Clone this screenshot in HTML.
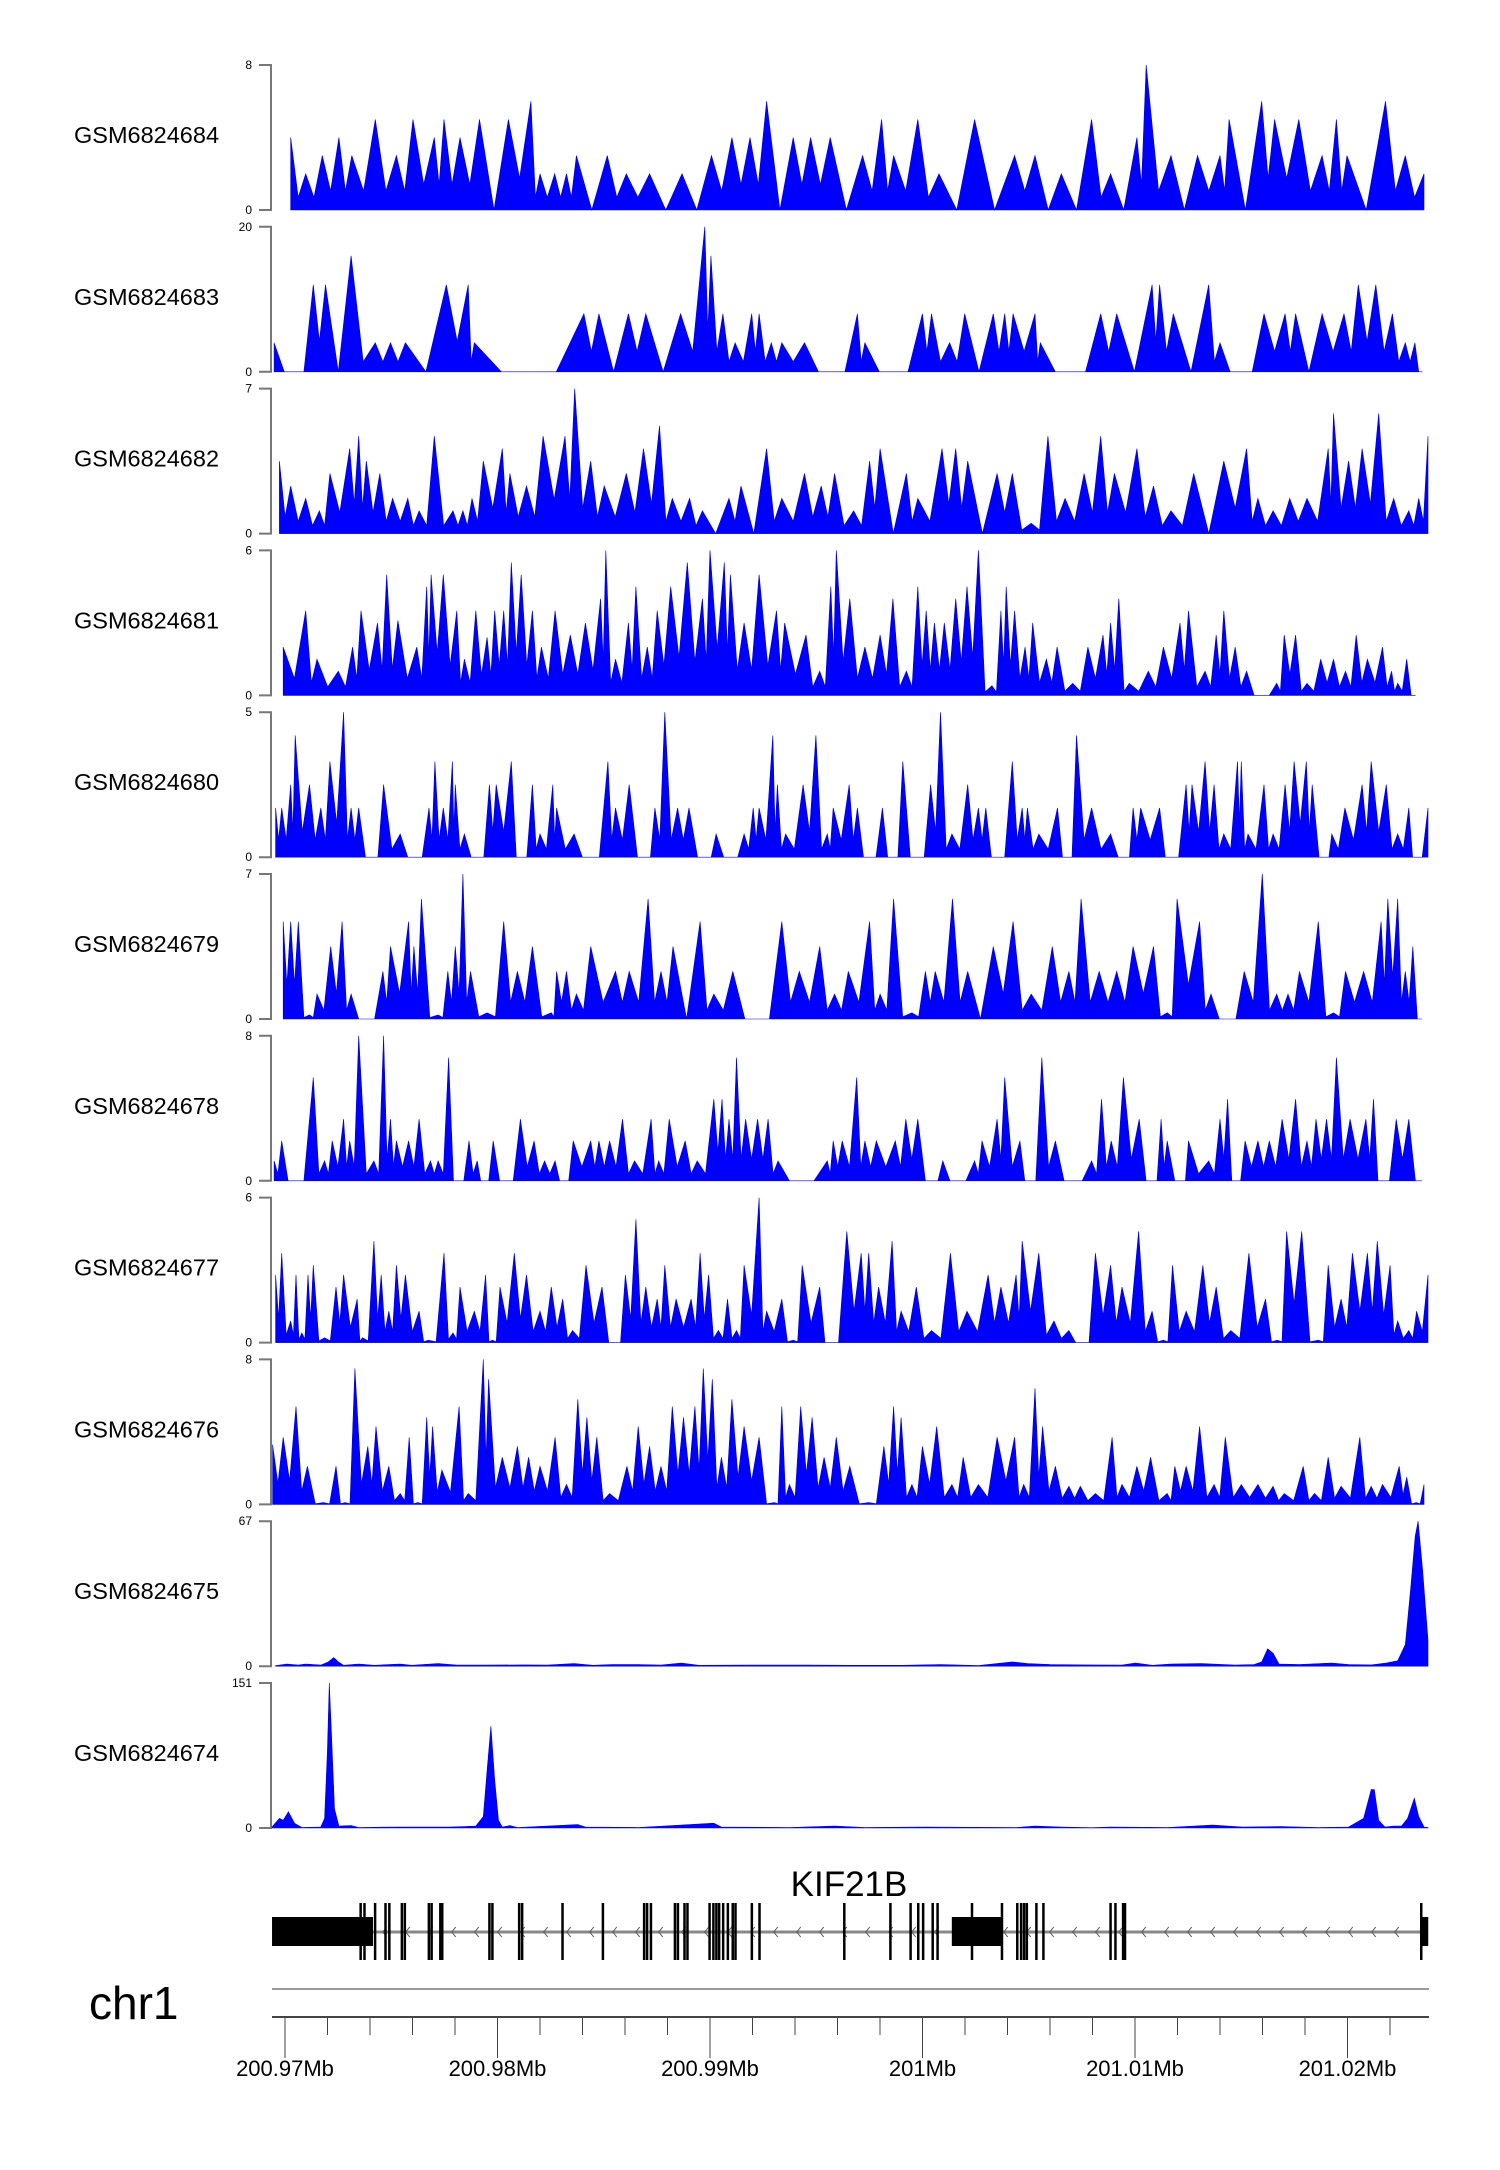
<!DOCTYPE html>
<html><head><meta charset="utf-8">
<style>
html,body{margin:0;padding:0;background:#fff;}
svg{display:block;}
text{font-family:"Liberation Sans",Arial,sans-serif;}
</style></head>
<body>
<svg id="chart" width="1500" height="2170" viewBox="0 0 1500 2170" xmlns="http://www.w3.org/2000/svg">
  <g id="tracks"></g>
  <g id="gene">
    <text x="849" y="1896" font-size="35" text-anchor="middle" fill="#000">KIF21B</text>
  </g>
  <text x="89" y="2019" font-size="46" fill="#000">chr1</text>
  <line x1="272" y1="1989" x2="1429" y2="1989" stroke="#999" stroke-width="2"/>
  <g id="axis"></g>
</svg>
<script>
// ---- track names and y-axis maxima ----
const trackNames = ["GSM6824684","GSM6824683","GSM6824682","GSM6824681","GSM6824680","GSM6824679","GSM6824678","GSM6824677","GSM6824676","GSM6824675","GSM6824674"];
const trackMax = [8,20,7,6,5,7,8,6,8,67,151];
const trackSmooth = [false,false,false,false,false,false,false,false,false,true,true];

// ---- positions (kb) and values per track ----
const pos684 = [0.26,0.97,1.76,2.55,3.16,4.28,5.28,6.07,7.08,7.54,8.30,9.23,10.6,11.67,12.1,12.8,13.36,13.83,15.3,16.2,17.31,18.85,20.25,21.22,22.08,22.87,24.13,24.96,25.89,27.43,28.33,28.9,30.05,31.06,32.75,34.65,35.62,36.87,38.31,39.21,40.46,40.9,42.08,43.34,44.41,44.84,46.39,47.0,48.15,49.26,49.94,50.44,52.27,53.21,54.1];
const val684 = [4,2,3,4,3,5,3,5,4,5,4,5,5,6,2,2,2,3,3,2,2,2,3,4,4,6,4,4,4,3,5,3,5,2,5,3,3,2,5,2,4,8,3,3,3,5,6,5,5,3,5,3,6,3,2];

const pos683 = [-0.53,0.44,1.33,1.91,3.13,4.28,5.0,5.71,7.65,8.69,8.98,11.56,14.19,14.9,16.3,17.13,18.78,19.93,20.22,20.79,21.37,22.16,22.51,23.09,23.59,24.67,26.0,27.18,27.54,28.9,30.27,30.7,31.56,32.28,33.64,34.18,34.58,35.62,35.87,37.3,38.74,39.5,41.18,41.54,42.19,43.87,44.41,45.38,46.5,47.5,48.0,49.26,50.3,50.98,51.81,52.6,53.21,53.67,54.03];
const val683 = [4,0,12,12,16,4,4,4,12,12,4,0,8,8,8,8,8,20,16,8,4,8,8,4,4,4,0,8,4,0,8,8,4,8,8,8,8,8,4,0,8,8,12,12,8,12,4,0,8,8,8,8,8,12,12,8,4,4,0];

const pos682 = [-0.28,0.26,0.97,1.62,2.12,3.06,3.49,3.85,4.49,5.1,5.82,6.36,7.08,7.97,8.44,8.87,9.41,10.31,10.67,11.46,12.25,13.29,13.75,14.51,15.15,16.2,17.02,17.78,18.39,19.21,19.82,21.08,21.65,22.87,23.59,24.67,25.46,26.1,27.0,27.76,28.26,29.51,30.05,31.2,31.85,32.42,33.82,34.54,35.44,36.23,37.05,37.95,38.74,39.39,40.46,41.25,42.08,43.16,44.59,45.67,46.21,46.93,47.72,48.54,49.55,49.8,50.52,51.16,51.95,52.66,53.38,53.85,54.29];
const val682 = [3.5,2.3,1.7,1.1,2.9,4.1,4.7,3.5,2.9,1.7,1.7,1.1,4.7,1.1,1.1,1.7,3.5,4.1,2.9,2.3,4.7,4.7,7,3.5,2.3,2.9,4.1,5.2,1.7,1.7,1.1,1.7,2.3,4.1,1.7,2.9,2.3,2.9,1.1,3.5,4.1,2.9,1.7,4.1,4.1,3.5,2.9,2.9,0.5,4.7,1.7,2.9,4.7,2.9,4.1,2.3,1.1,2.9,3.5,4.1,1.7,1.1,1.7,1.7,4.1,5.8,3.5,4.1,5.8,1.7,1.1,1.7,4.7];

const pos681 = [-0.1,0.97,1.51,2.52,3.2,3.6,4.38,4.82,5.35,6.25,6.72,6.93,7.51,8.15,8.51,9.05,9.59,9.95,10.38,10.74,11.21,11.74,12.17,12.82,13.54,14.26,14.98,15.23,15.69,16.3,16.66,17.2,17.67,18.31,19.1,19.82,20.18,20.86,21.15,21.8,22.51,23.34,23.73,24.74,25.39,25.92,26.18,26.82,27.54,28.26,28.87,29.51,30.05,30.45,30.84,31.31,31.85,32.39,32.93,33.57,34.0,34.25,34.65,35.15,35.51,36.16,36.67,37.41,38.13,38.85,39.21,39.6,40.1,41.0,41.72,42.51,42.91,43.7,44.23,44.59,45.13,45.67,46.39,47.1,47.46,48.0,48.54,49.19,49.8,50.37,50.88,51.41,52.13,52.56,52.85,53.28,53.7];
const val681 = [2,3.5,1.5,1,2,3.5,3,5,3.1,2,4.5,5,5,3.5,1.5,3.5,2.4,3.5,3.5,5.5,5,3.5,2,3.5,2.5,3,4,6,1.5,3,4.5,2,3.5,4.5,5.5,4,6,5.5,5,3,5,3.5,3,2.5,1,4.5,6,4,2,2.5,4,1,4.5,3.5,3,3,4,4.5,6,0.4,3.5,4.5,3.5,2,3,1.5,2,0.5,2,2.5,3,4,0.5,1,2,3,3.5,1,2.5,3.5,2,1,0,0.5,2.5,2.5,0.5,1.5,1.5,1,2.5,1.5,2,1,0.5,1.5,0];

const pos680 = [-0.46,-0.17,0.26,0.47,1.15,1.69,2.12,2.77,3.13,3.49,4.13,4.67,5.46,6.18,6.83,7.11,7.51,7.94,8.08,8.51,9.16,9.7,10.02,10.74,11.21,11.74,12.1,12.71,12.89,13.72,14.51,15.33,15.69,16.34,17.13,17.56,18.03,18.64,19.18,20.0,20.47,21.19,21.8,22.23,22.51,23.16,23.38,23.77,24.6,25.21,25.75,26.03,26.79,27.18,27.76,28.37,28.87,29.34,30.05,30.66,31.13,31.67,32.42,32.93,33.28,33.82,34.54,35.01,35.26,35.8,36.69,37.16,37.59,38.31,39.21,39.93,40.28,40.64,41.54,42.08,42.8,43.08,43.7,44.13,44.59,45.24,45.42,45.74,46.5,46.93,47.5,47.93,48.51,48.79,49.44,49.72,50.34,51.16,51.59,52.31,52.85,53.38,53.74,54.29];
const val680 = [1.7,1.7,2.5,4.2,2.5,1.7,3.3,5,1.7,1.7,0,2.5,0.8,0,1.7,3.3,1.7,3.3,2.5,0.8,0,2.5,2.5,3.3,0,2.5,0.8,2.5,1.7,0.8,0,3.3,1.7,2.5,0,1.7,5,1.7,1.7,0,0.8,0,0.8,1.7,1.7,4.2,2.5,0.8,2.5,4.2,0.8,1.7,2.5,1.7,0,1.7,0,3.3,0,2.5,5,0.8,2.5,1.7,1.7,0,3.3,1.7,1.7,0.8,1.7,0,4.2,1.7,0.8,0,1.7,1.7,1.7,0,2.5,2.5,3.3,2.5,0.8,3.3,3.3,0.8,2.5,0.8,2.5,3.3,3.3,2.5,0,0.8,1.7,2.5,3.3,2.5,0.8,1.7,0,1.7];

const pos679 = [-0.1,0.26,0.62,1.15,1.51,2.16,2.7,3.13,3.85,4.64,5.0,5.86,6.11,6.47,7.26,7.72,8.08,8.44,8.8,9.59,10.38,11.03,11.74,12.64,12.89,13.36,13.83,14.51,15.69,16.34,17.24,17.85,18.42,19.71,20.36,21.26,22.41,23.59,24.42,25.39,26.1,26.75,27.76,28.26,28.9,29.77,30.41,30.88,31.7,32.42,33.64,34.58,35.44,36.44,37.23,37.81,38.67,39.5,40.28,41.25,41.9,42.37,43.44,43.98,44.77,45.56,46.42,47.1,47.64,48.18,49.08,49.8,50.37,51.23,52.06,52.38,52.85,53.21,53.57,54.0];
const val679 = [4.7,4.7,4.7,0.2,1.2,3.5,4.7,1.2,0,2.3,3.5,4.7,3.5,5.8,0.2,2.3,3.5,7,2.3,0.3,4.7,2.3,3.5,0.3,2.3,2.3,1.2,3.5,2.3,2.3,5.8,2.3,3.5,4.7,1.2,2.3,0,4.7,2.3,3.5,1.2,2.3,4.7,1.2,5.8,0.3,2.3,2.3,5.8,2.3,3.5,4.7,1.2,3.5,2.3,5.8,2.3,2.3,3.5,3.5,0.3,5.8,4.7,1.2,0,2.3,7,1.2,1.2,2.3,4.7,0.3,2.3,2.3,4.7,5.8,5.8,2.3,3.5,0];

const pos678 = [-0.53,-0.17,0.44,1.33,1.87,2.23,2.77,3.06,3.49,4.21,4.67,5.0,5.28,5.86,6.36,6.9,7.26,7.76,8.23,8.73,9.12,9.45,9.88,10.49,11.17,11.82,12.32,12.82,13.25,13.68,14.51,14.9,15.41,16.02,16.59,17.38,17.74,18.24,19.0,19.57,20.36,20.75,21.08,21.44,21.87,22.44,22.94,23.41,24.49,25.75,26.03,26.46,27.15,27.54,28.08,28.98,29.48,30.05,30.77,31.24,31.92,32.75,33.1,33.82,34.18,34.9,35.37,35.94,36.59,37.41,38.31,38.78,39.24,39.82,40.57,41.22,41.61,41.9,42.62,42.91,43.87,44.41,44.77,45.17,45.6,46.21,46.75,47.36,48.0,48.54,48.97,49.47,49.94,50.59,51.34,51.7,52.13,52.78,53.38,54.0];
const val678 = [1.1,2.2,0,5.7,1.1,2.2,3.4,2.2,8,1.1,8,3.4,2.2,2.2,3.4,1.1,1.1,6.8,0,2.2,1.1,0,2.2,0,3.4,2.2,1.1,1.1,0,2.2,2.2,2.2,2.2,3.4,1.1,3.4,1.1,3.4,2.2,1.1,4.5,4.5,3.4,6.8,3.4,3.4,3.4,1.1,0,1.1,2.2,2.2,5.7,2.2,2.2,2.2,3.4,3.4,0,1.1,0,1.1,2.2,3.4,5.7,2.2,0,6.8,2.2,0,1.1,4.5,2.2,5.7,3.4,0,3.4,2.2,0,2.2,1.1,3.4,4.5,0,2.2,2.2,2.2,3.4,4.5,2.2,3.4,3.4,6.8,3.4,3.4,4.5,0,3.4,3.4,0];

const pos677 = [-0.46,-0.17,0.26,0.51,0.79,1.08,1.33,1.87,2.41,2.77,3.42,3.67,4.21,4.56,4.92,5.28,5.71,6.36,6.79,7.54,7.97,8.3,8.98,9.52,9.84,10.2,10.88,11.46,12.1,12.64,13.18,13.65,14.29,15.05,15.69,16.16,16.66,17.13,17.67,18.03,18.57,19.28,19.71,20.11,20.58,21.01,21.44,21.8,22.51,22.87,23.59,24.13,24.56,25.39,25.89,26.68,27.36,27.72,28.19,28.83,29.26,29.98,30.7,31.6,32.39,33.39,34.0,34.72,35.01,35.8,36.52,37.23,37.88,38.49,39.21,39.75,40.54,41.18,41.72,42.15,42.8,43.59,44.23,44.92,45.78,46.57,47.14,47.57,48.29,49.08,49.55,50.16,50.7,51.41,51.88,52.49,52.85,53.38,53.75,54.29];
const val677 = [2.8,3.7,0.9,2.8,0.4,2.8,3.2,0.2,2.3,2.8,1.8,0.2,4.2,2.8,1.3,3.2,2.8,1.3,0.1,3.7,0.4,2.3,1.3,2.8,0.1,2.3,3.7,2.8,1.3,2.3,1.8,0.5,3.2,2.3,0,2.8,5.1,2.3,1.8,3.2,1.8,1.8,3.7,2.8,0.5,1.8,0.5,3.2,6,1.3,1.8,0.1,3.2,2.3,0,4.6,3.7,3.7,2.3,4.2,1.3,2.3,0.5,3.7,1.3,2.8,2.3,2.8,4.2,3.7,0.9,0.5,0,3.7,3.2,2.3,4.6,1.3,0.1,3.2,1.3,3.2,2.3,0.5,3.7,1.8,0.1,4.6,4.6,0.1,3.2,1.8,3.7,3.7,4.2,3.2,0.9,0.5,1.3,2.8];

const pos676 = [-0.6,-0.1,0.51,1.05,1.8,2.41,2.84,3.31,3.92,4.31,4.92,5.46,5.89,6.29,6.72,7.0,7.44,8.26,8.69,9.41,9.66,10.31,11.03,11.56,12.1,12.82,13.36,13.9,14.33,14.8,15.41,16.23,16.77,17.31,17.85,18.39,18.92,19.46,19.86,20.29,20.72,21.22,21.8,22.51,23.23,23.59,23.95,24.49,25.03,25.6,26.18,26.82,27.72,28.44,28.9,29.26,29.77,30.27,30.95,31.67,32.21,32.93,33.82,34.65,35.08,35.62,35.98,36.59,37.23,37.77,38.49,39.28,39.75,40.46,41.11,41.9,42.26,42.8,43.44,44.13,44.66,45.42,46.21,46.93,47.46,48.36,48.9,49.55,50.16,51.05,51.59,52.13,52.92,53.28,53.74,54.1];
const val676 = [3.3,3.7,5.4,2.1,0.1,2.1,0.1,7.5,3.2,4.3,2.1,0.6,3.7,0.1,4.8,4.3,1.9,5.4,0.6,8,6.9,2.6,3.2,2.6,2.1,3.7,1.1,5.8,4.8,3.7,0.6,2.1,4.3,3.2,2.1,5.4,4.8,5.4,7.5,6.9,2.6,5.8,4.3,3.7,0.1,5.4,1.1,5.4,4.8,2.6,3.7,2.1,0.1,3.2,5.4,4.8,1.1,3.2,4.3,1.1,2.6,1.1,3.7,3.7,1.1,6.4,4.3,2.1,1.0,1.0,0.6,3.7,1.1,2.1,2.6,0.6,2.1,2.1,4.3,1.1,3.7,1.1,1.1,1.0,0.6,2.1,0.6,2.6,1.0,3.7,1.0,1.1,2.1,1.5,0.1,1.1];

const pos675 = [-0.46,0.08,0.62,0.97,1.69,2.05,2.3,2.52,2.77,3.49,4.21,5.46,6.0,7.26,8.15,9.59,11.39,12.46,13.72,14.62,15.51,16.77,17.85,18.82,19.64,22.16,24.67,26.82,29.34,31.13,32.93,34.54,35.26,36.34,37.95,39.75,40.39,41.18,42.08,43.52,45.13,46.03,46.39,46.67,46.93,47.21,48.18,49.72,50.52,51.59,52.31,52.85,53.21,53.46,53.68,53.82,54.03,54.29];
const val675 = [0.3,1,0.5,1,0.5,2,4,2,0.4,1,0.4,1,0.4,1.2,0.5,0.5,0.6,0.5,1.2,0.4,0.8,0.8,0.5,1.5,0.4,0.5,0.5,0.4,0.4,0.8,0.3,2,1.2,0.8,0.6,0.5,1.5,0.4,1,1.2,0.5,0.8,2,8,6,1,0.8,1.5,0.8,0.6,1.5,2.5,10,35,60,67,45,12];

const pos674 = [-0.63,-0.28,-0.1,0.15,0.44,0.79,1.69,1.87,2.0,2.09,2.19,2.34,2.55,3.13,3.49,5.28,7.8,8.51,9.05,9.41,9.59,9.77,9.95,10.13,10.31,10.67,11.03,13.9,14.26,16.77,20.36,20.72,23.95,26.1,27.54,30.41,34.72,35.62,36.87,38.31,39.21,41.9,44.05,45.49,47.29,49.08,50.52,51.23,51.59,51.74,51.95,52.24,52.67,53.03,53.32,53.64,53.85,54.1,54.29];
const val674 = [1,10,8,17,5,0.5,1,10,80,151,100,20,2,2.5,0.5,1,1,1.5,2,12,60,106,50,8,1,2.5,0.5,3.5,1,0.5,5,1,0.5,2,0.5,1,0.5,2,1,0.3,1,0.5,3,1,1.5,0.5,1,10,40,40,8,1,2,2,10,31,12,1,0.5];

const trackPos = [pos684,pos683,pos682,pos681,pos680,pos679,pos678,pos677,pos676,pos675,pos674];
const trackVal = [val684,val683,val682,val681,val680,val679,val678,val677,val676,val675,val674];

// ---- gene model (kb from 200.97 Mb) ----
const exonStarts = [-0.61,31.38,53.47];
const exonEnds = [4.14,33.78,53.8];
const exonLines = [3.56,3.74,4.24,4.73,4.91,5.5,5.64,6.77,6.9,7.31,7.4,9.62,9.76,11.02,11.16,13.06,14.96,16.9,17.04,17.22,18.35,18.49,18.8,18.94,19.98,20.16,20.3,20.43,20.62,20.84,21.07,21.2,21.97,22.33,26.32,28.49,29.44,29.8,30.03,30.48,30.71,32.33,33.74,34.46,34.64,34.78,34.91,35.36,35.69,38.85,39.08,39.44,39.53,53.47];

// ---- axis ticks ----
const majorTicks = [0,10,20,30,40,50];
const majorLabels = ["200.97Mb","200.98Mb","200.99Mb","201Mb","201.01Mb","201.02Mb"];
const minorTicks = [2,4,6,8,12,14,16,18,22,24,26,28,32,34,36,38,42,44,46,48,52];

const NS = "http://www.w3.org/2000/svg";
const PL = 272, PR = 1428;
function xTrack(p){ const d0=-0.63, d1=54.29; p=Math.max(d0,Math.min(d1,p)); return PL + (p-d0)/(d1-d0)*(PR-PL); }
function xGen(kb){ return 285 + kb*21.25; }
function mk(tag, attrs, parent){ const e=document.createElementNS(NS,tag); for(const k in attrs) e.setAttribute(k,attrs[k]); parent.appendChild(e); return e; }

const tracksG = document.getElementById("tracks");
for (let k=0;k<trackNames.length;k++){
  const top = 65 + 161.8*k, H = 145, base = top + H;
  const yS = v => base - v/trackMax[k]*H;
  const g = mk("g",{},tracksG);
  
  
  const lab = mk("text",{x:74,y:(top+H/2+5.5).toFixed(1),"font-size":"23.5",fill:"#000"},g);
  lab.textContent = trackNames[k];
  
  
  const ax = mk("path",{d:`M259 ${top} H271 V${base} H259`,stroke:"#777","stroke-width":"2",fill:"none"},g);
  
  
  const tMax = mk("text",{x:252,y:top+4,"font-size":"12","text-anchor":"end",fill:"#000"},g);
  tMax.textContent = String(trackMax[k]);
  
  
  const t0 = mk("text",{x:252,y:base+4,"font-size":"12","text-anchor":"end",fill:"#000"},g);
  t0.textContent = "0";
  
  
  const P = trackPos[k], V = trackVal[k];
  const pts = [[xTrack(P[0]), base]];
  for (let i=0;i<P.length;i++){
    pts.push([xTrack(P[i]), yS(V[i])]);
    if (!trackSmooth[k] && i < P.length-1){
      const gap = P[i+1]-P[i];
      const dip = gap > 1.2 ? 0 : Math.min(V[i],V[i+1])*0.35;
      pts.push([xTrack((P[i]+P[i+1])/2), yS(dip)]);
    }
  }
  pts.push([xTrack(P[P.length-1]), base]);
  const poly = mk("polygon",{points:pts.map(p=>p[0].toFixed(1)+","+p[1].toFixed(1)).join(" "),fill:"#0000ff",stroke:"#0000cc","stroke-width":"0.6"},g);
  
  
}

// gene model
const geneG = document.getElementById("gene");
const intron = mk("line",{x1:xGen(4.14),y1:1932,x2:xGen(53.47),y2:1932,stroke:"#888","stroke-width":"3"},geneG);


for (let x = xGen(4.6); x < xGen(53.3); x += 23){
  const c = mk("path",{d:`M${x+4} 1927 L${x} 1932 L${x+4} 1937`,stroke:"#555","stroke-width":"1",fill:"none"},geneG);
  
  
}
for (let i=0;i<exonStarts.length;i++){
  const r = mk("rect",{x:xGen(exonStarts[i]),y:1917,width:xGen(exonEnds[i])-xGen(exonStarts[i]),height:29,fill:"#000"},geneG);
  
  
}
for (let i=0;i<exonLines.length;i++){
  const l = mk("rect",{x:xGen(exonLines[i])-1.25,y:1903,width:2.5,height:57,fill:"#000"},geneG);
  
  
}

// axis
const axG = document.getElementById("axis");
const axl = mk("line",{x1:272,y1:2017,x2:1429,y2:2017,stroke:"#444","stroke-width":"2"},axG);


for (let i=0;i<minorTicks.length;i++){
  const t = mk("line",{x1:xGen(minorTicks[i]),y1:2017,x2:xGen(minorTicks[i]),y2:2035,stroke:"#444","stroke-width":"1"},axG);
  
  
}
for (let i=0;i<majorTicks.length;i++){
  const x = xGen(majorTicks[i]);
  const t = mk("line",{x1:x,y1:2017,x2:x,y2:2058,stroke:"#444","stroke-width":"1"},axG);
  
  
  const lb = mk("text",{x:x,y:2076,"font-size":"22","text-anchor":"middle",fill:"#000"},axG);
  lb.textContent = majorLabels[i];
  
  
}
</script>
</body></html>
